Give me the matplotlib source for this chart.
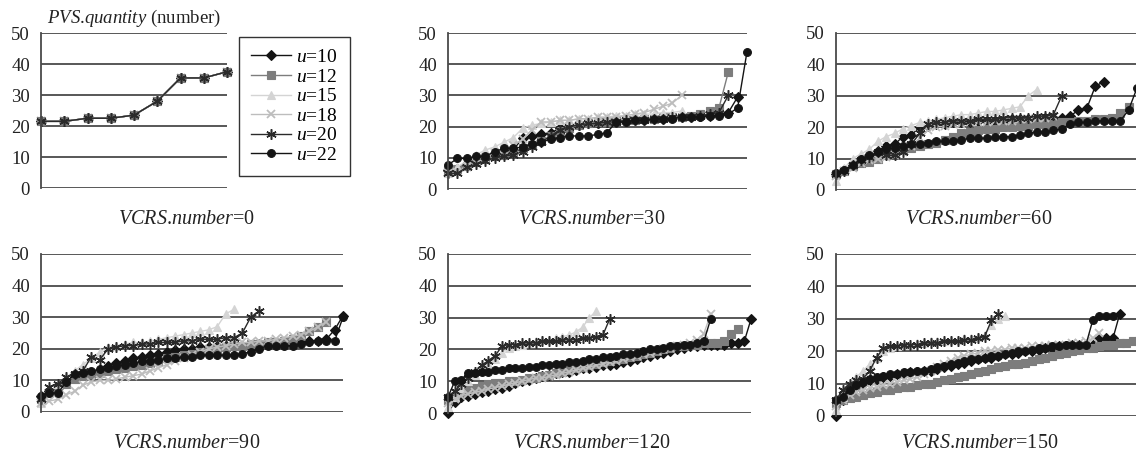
import matplotlib
matplotlib.use("Agg")
import matplotlib.pyplot as plt

plt.rcParams['font.family'] = ['Liberation Serif', 'DejaVu Serif']
plt.rcParams['mathtext.fontset'] = 'custom'
plt.rcParams['mathtext.it'] = 'Liberation Serif:italic'
plt.rcParams['mathtext.rm'] = 'Liberation Serif'

# ---------------- data ----------------
series_names = ["10", "12", "15", "18", "20", "22"]
vcrs_numbers = [0, 30, 60, 90, 120, 150]
y_ticks = [0, 10, 20, 30, 40, 50]

# VCRS.number = 0 (all u identical)
p0 = [21.5, 21.5, 22.5, 22.5, 23.5, 28, 35.5, 35.5, 37.5]
p0_u10 = p0
p0_u12 = p0
p0_u15 = p0
p0_u18 = p0
p0_u20 = p0
p0_u22 = p0

# VCRS.number = 30
p30_u10 = [6, 6.5, 8, 9.5, 10, 11.5, 12, 12.5, 16.5, 17, 17.5, 18, 19.5, 20, 20.5, 21, 21,
           21.5, 21.5, 22, 22, 22, 22.5, 22.5, 23, 23, 23, 23.5, 23.5, 24, 24.5, 29.5]
p30_u12 = [6, 6.5, 7.5, 8.5, 9.5, 10.5, 11, 12, 13, 14, 15.5, 17, 18.5, 19.5, 20.5, 21, 21.5,
           21.5, 22, 22, 22, 22.5, 22.5, 23, 23, 23, 23.5, 24, 25, 26, 37.5]
p30_u15 = [5, 7, 9, 11, 12.5, 13.5, 15, 16.5, 19.5, 20.5, 21, 21.5, 22, 22, 22.5, 22.5, 23,
           23, 23.5, 23.5, 24, 24, 24, 24.5, 24.5, 25]
p30_u18 = [5, 5.5, 7, 8.5, 10, 11.5, 12.5, 14, 16, 19, 21.5, 21.5, 22, 22, 22.5, 22.5, 23, 23,
           23, 23.5, 24, 24.5, 25.5, 26.5, 27.5, 30]
p30_u20 = [5, 5, 7, 8, 9, 10, 10.5, 11, 12, 13.5, 15, 17, 19, 20, 20.5, 21, 21, 21.5, 21.5,
           22, 22, 22, 22.5, 22.5, 23, 23, 23, 23.5, 24, 24.5, 30]
p30_u22 = [7.7, 9.8, 9.8, 10.5, 10.5, 12, 13, 13, 13.5, 14.5, 15, 16, 16.5, 17, 17, 17, 17.5,
           18, 21.5, 21.5, 22, 22, 22.5, 22.5, 22.5, 23, 23, 23, 23.5, 23.5, 24, 26, 44]

# VCRS.number = 60
p60_u10 = [5, 6.5, 8, 9.5, 11, 12.5, 14, 14.5, 17, 17.5, 20, 20.5, 21, 21, 21.5, 21.5, 21.5,
           22, 22, 22, 22, 22.5, 22.5, 22.5, 22.5, 23, 23, 23, 23.5, 25.5, 26, 33, 34.5]
p60_u12 = [5, 6, 7.5, 8.5, 9, 10, 11, 12, 13, 13.5, 14, 14.5, 15, 16, 17, 18, 18.5, 19, 19.5,
           19.5, 20, 20, 20.5, 20.5, 21, 21, 21, 21.5, 21.5, 22, 22, 22.5, 22.5, 23, 24.5, 26.5]
p60_u15 = [3, 7, 10, 11.5, 13, 15.5, 17, 18, 19.5, 20.5, 21.5, 22, 22.5, 23, 23.5, 24, 24,
           24.5, 25, 25, 25.5, 26, 26.5, 30, 32]
p60_u18 = [4.5, 6, 7, 8.5, 9.5, 10, 10.5, 11, 12, 14, 16.5, 19, 20, 20.5, 21, 21, 21.5, 21.5,
           21.5, 22, 22, 22, 22.5, 22.5, 23, 23, 23.5]
p60_u20 = [5, 6, 8, 9.5, 10.5, 12, 11, 11, 12, 14.5, 18, 21, 21.5, 21.5, 22, 22, 22, 22.5,
           22.5, 22.5, 23, 23, 23, 23, 23.5, 23.5, 24, 30]
p60_u22 = [5.3, 6.5, 8, 10, 11, 12, 13, 13.5, 14, 14.5, 14.5, 15, 15.5, 15.5, 15.5, 16, 16.5,
           16.5, 16.5, 17, 17, 17, 17.5, 18, 18.5, 18.5, 19, 19.5, 21, 21.5, 21.5, 22, 22, 22,
           22, 25.5, 32.5]

# VCRS.number = 90
p90_u10 = [5, 6.5, 7.5, 9.5, 11, 12, 12.5, 13, 14.5, 15.5, 16, 17, 17.5, 18, 18.5, 19, 19.5,
           20, 20, 20.5, 20.5, 21, 21, 21, 21, 21, 21.5, 21.5, 21.5, 22, 22, 22, 22.5, 22.5,
           23, 26, 30.5]
p90_u12 = [4, 6, 7.5, 9, 10.5, 11.5, 12, 12.5, 13, 13.5, 14, 14.5, 15, 15.5, 16, 17, 17.5, 18,
           18.5, 19, 19.5, 20, 20.5, 21, 21, 21.5, 21.5, 22, 22, 22.5, 23, 24, 25.5, 27, 28.5]
p90_u15 = [3, 6, 9, 11, 13, 15, 17, 19, 20.5, 21, 21.5, 22, 22, 22.5, 23, 23.5, 24, 24.5, 25,
           25.5, 26, 27, 31, 32.5]
p90_u18 = [3, 3.5, 4, 5.5, 6.5, 8.5, 9.5, 10, 10, 10.5, 11, 11.5, 12, 13, 14, 15, 16, 17, 18,
           19, 20, 20.5, 21, 21.5, 22, 22, 22.5, 22.5, 23, 23.5, 24, 24.5, 25.5, 27, 28.5]
p90_u20 = [4, 8, 9, 11, 12, 13, 17.5, 16.5, 20, 20.5, 21, 21, 21.5, 21.5, 22, 22, 22, 22.5,
           22.5, 23, 23, 23, 23.5, 23.5, 25, 30, 32]
p90_u22 = [5, 6, 6, 9.5, 12, 12.5, 13, 13.5, 14, 14.5, 15, 15.5, 16, 16, 16.5, 17, 17, 17.5,
           17.5, 18, 18, 18, 18, 18, 18.5, 19, 20, 21, 21, 21, 21, 21.5, 22, 22.5, 22.5, 22.5, 30]

# VCRS.number = 120
p120_u10 = [0, 3.5, 5, 5.5, 6, 6.5, 7, 7.5, 8, 8.5, 9.5, 10, 10.5, 11, 11.5, 12, 12.5, 13, 13,
            13.5, 14, 14, 14.5, 15, 15, 15.5, 16, 16.5, 17, 17.5, 18, 18.5, 19, 19.5, 20, 20.5,
            21, 21, 21.5, 21.5, 21.5, 21.5, 22, 22, 22.5, 29.5]
p120_u12 = [4, 5, 6.5, 7.5, 8, 8.5, 9, 9.5, 9.5, 10, 10, 10.5, 11, 11, 11.5, 12, 12.5, 13, 13.5,
            14, 14.5, 15, 15.5, 16, 16.5, 17, 17, 17.5, 18, 18.5, 19, 19.5, 20, 20.5, 21, 21,
            21.5, 21.5, 22, 22, 22, 22.5, 25, 26.5]
p120_u15 = [2, 5, 8, 10, 12, 14, 15.5, 17, 19, 20.5, 21, 21.5, 22, 22.5, 23, 23, 23.5, 24,
            24.5, 25.5, 27, 30, 32]
p120_u18 = [3, 4.5, 5.5, 6, 6.5, 7, 7.5, 8, 8.5, 9, 9.5, 10, 10.5, 11, 11, 11.5, 12, 12.5, 13,
            13.5, 14, 14.5, 15, 15.5, 16, 16.5, 17, 17.5, 18, 18.5, 19, 19.5, 20, 20.5, 21,
            21.5, 22, 23, 25, 31]
p120_u20 = [5, 7, 9, 11, 13, 15, 16.5, 18, 21, 21.5, 21.5, 22, 22, 22, 22.5, 22.5, 22.5, 23,
            23, 23, 23.5, 23.5, 24, 24.5, 29.5]
p120_u22 = [5, 10, 10.5, 12.5, 12.5, 13, 13, 13.5, 13.5, 14, 14, 14, 14.5, 14.5, 15, 15, 15.5,
            15.5, 16, 16, 16.5, 17, 17, 17.5, 17.5, 18, 18.5, 18.5, 19, 19.5, 20, 20, 20.5, 21,
            21, 21.5, 21.5, 22, 22.5, 29.5]

# VCRS.number = 150
p150_u10 = [0, 5, 7, 9, 10, 11, 11.5, 12, 12.5, 13, 13, 13.5, 13.5, 14, 14, 14.5, 15, 15.5, 16,
            16.5, 17, 17.5, 18, 18, 18.5, 19, 19, 19.5, 20, 20, 20.5, 21, 21, 21.5, 21.5, 22,
            22, 22, 22, 24, 24, 24, 31.5]
p150_u12 = [4, 5, 5.5, 6, 6.5, 7, 7.5, 8, 8, 8.5, 9, 9, 9.5, 10, 10, 10.5, 11, 11.5, 12, 12.5,
            13, 13.5, 14, 14.5, 15, 15.5, 16, 16, 16.5, 17, 17.5, 18, 18.5, 19, 19.5, 20, 20.5,
            21, 21, 21.5, 22, 22, 22.5, 22.5, 23, 23.5]
p150_u15 = [2, 6, 10, 12, 14, 16, 18, 20, 21, 21.5, 22, 22, 22.5, 22.5, 23, 23, 23, 23.5, 23.5,
            24, 24, 24.5, 25, 28, 30, 31]
p150_u18 = [3, 5, 6.5, 7.5, 8, 8.5, 9, 9.5, 10, 10.5, 11, 11.5, 12, 13, 14, 15, 16, 17, 18,
            18.5, 19, 19.5, 20, 20, 20.5, 20.5, 21, 21, 21, 21.5, 21.5, 21.5, 22, 22, 22, 22.5,
            22.5, 23, 24, 25.5]
p150_u20 = [5, 8, 10, 11, 11.5, 14, 18, 21, 21.5, 21.5, 22, 22, 22, 22.5, 22.5, 22.5, 23, 23,
            23, 23.5, 23.5, 24, 24.5, 29.5, 31.5]
p150_u22 = [5, 6, 8, 9.5, 10.5, 11.5, 12, 12.5, 13, 13, 13.5, 13.5, 14, 14, 14.5, 15, 15.5, 16,
            16.5, 17, 17.5, 17.5, 18, 18.5, 18.5, 19, 19.5, 20, 20, 20.5, 21, 21, 21.5, 21.5, 22,
            22, 22, 22, 29.5, 31, 31, 31]

panels = [
    [p0_u10, p0_u12, p0_u15, p0_u18, p0_u20, p0_u22],
    [p30_u10, p30_u12, p30_u15, p30_u18, p30_u20, p30_u22],
    [p60_u10, p60_u12, p60_u15, p60_u18, p60_u20, p60_u22],
    [p90_u10, p90_u12, p90_u15, p90_u18, p90_u20, p90_u22],
    [p120_u10, p120_u12, p120_u15, p120_u18, p120_u20, p120_u22],
    [p150_u10, p150_u12, p150_u15, p150_u18, p150_u20, p150_u22],
]

# ---------------- style ----------------
styles = [
    dict(color='#141414', marker='D', ms=4.6, mec='#141414', mfc='#141414', mew=0.8),
    dict(color='#7d7d7d', marker='s', ms=5.2, mec='#7d7d7d', mfc='#7d7d7d', mew=0.8),
    dict(color='#d4d4d4', marker='^', ms=6.0, mec='#d4d4d4', mfc='#d4d4d4', mew=0.8),
    dict(color='#bdbdbd', marker='x', ms=6.0, mec='#bdbdbd', mfc='#bdbdbd', mew=1.3),
    dict(color='#2a2a2a', marker=(6, 2, 0), ms=7.5, mec='#2a2a2a', mfc='#2a2a2a', mew=1.1),
    dict(color='#141414', marker='o', ms=5.6, mec='#141414', mfc='#141414', mew=0.8),
]
# panel 1: all series coincide; draw so squares/asterisks show on top as in reference
order_first = [5, 0, 2, 3, 1, 4]

W, H = 1136, 458
fig = plt.figure(figsize=(W / 100, H / 100), dpi=100)

# axes boxes in pixels: left, right, top, bottom
boxes = [
    (41, 227, 33, 188),
    (448, 747, 33, 189),
    (836, 1137, 33, 190),
    (41, 343, 254, 412),
    (448, 751, 254, 413),
    (836, 1140, 254, 416),
]
title_pos = [(187, 220), (592, 220), (979, 220), (187, 443), (592, 443), (980, 443)]

grid_color = '#4a4a4a'
handles = None
for k, (l, r, t, b) in enumerate(boxes):
    ax = fig.add_axes([l / W, 1 - b / H, (r - l) / W, (b - t) / H])
    data = panels[k]
    nmax = max(len(s) for s in data)
    idx_order = order_first if k == 0 else range(6)
    lines = {}
    for i in idx_order:
        s = data[i]
        ln, = ax.plot(range(len(s)), s, lw=1.0, clip_on=False, **styles[i])
        lines[i] = ln
    if k == 0:
        handles = [lines[i] for i in range(6)]
    ax.set_xlim(0, nmax - 1)
    ax.set_ylim(0, 50)
    ax.set_yticks(y_ticks)
    ax.set_xticks([])
    for yv in y_ticks:
        ax.axhline(yv, color=grid_color, lw=1.3, zorder=0)
    for sp in ['top', 'right', 'bottom']:
        ax.spines[sp].set_visible(False)
    ax.spines['left'].set_color(grid_color)
    ax.spines['left'].set_linewidth(1.3)
    ax.tick_params(axis='y', length=0, pad=8, labelsize=13.5, labelcolor='#222222')
    tx, ty = title_pos[k]
    fig.text(tx / W, 1 - ty / H,
             r'$\mathit{VCRS}$.$\mathit{number}$=' + str(vcrs_numbers[k]),
             ha='center', va='center', fontsize=14.5, color='#222222')

fig.text(47 / W, 1 - 18 / H, r'$\mathit{PVS}$.$\mathit{quantity}$ (number)',
         ha='left', va='center', fontsize=13.5, color='#222222')

leg = fig.legend(handles, [r'$u$=' + n for n in series_names], loc='upper left',
                 bbox_to_anchor=(239 / W, 1 - 37 / H), borderaxespad=0, fontsize=14,
                 handlelength=2.05, labelspacing=0.1, handletextpad=0.3, borderpad=0.6,
                 fancybox=False, edgecolor='#333333', framealpha=1)
leg.get_frame().set_linewidth(1.0)

fig.savefig('out.png', dpi=100)
